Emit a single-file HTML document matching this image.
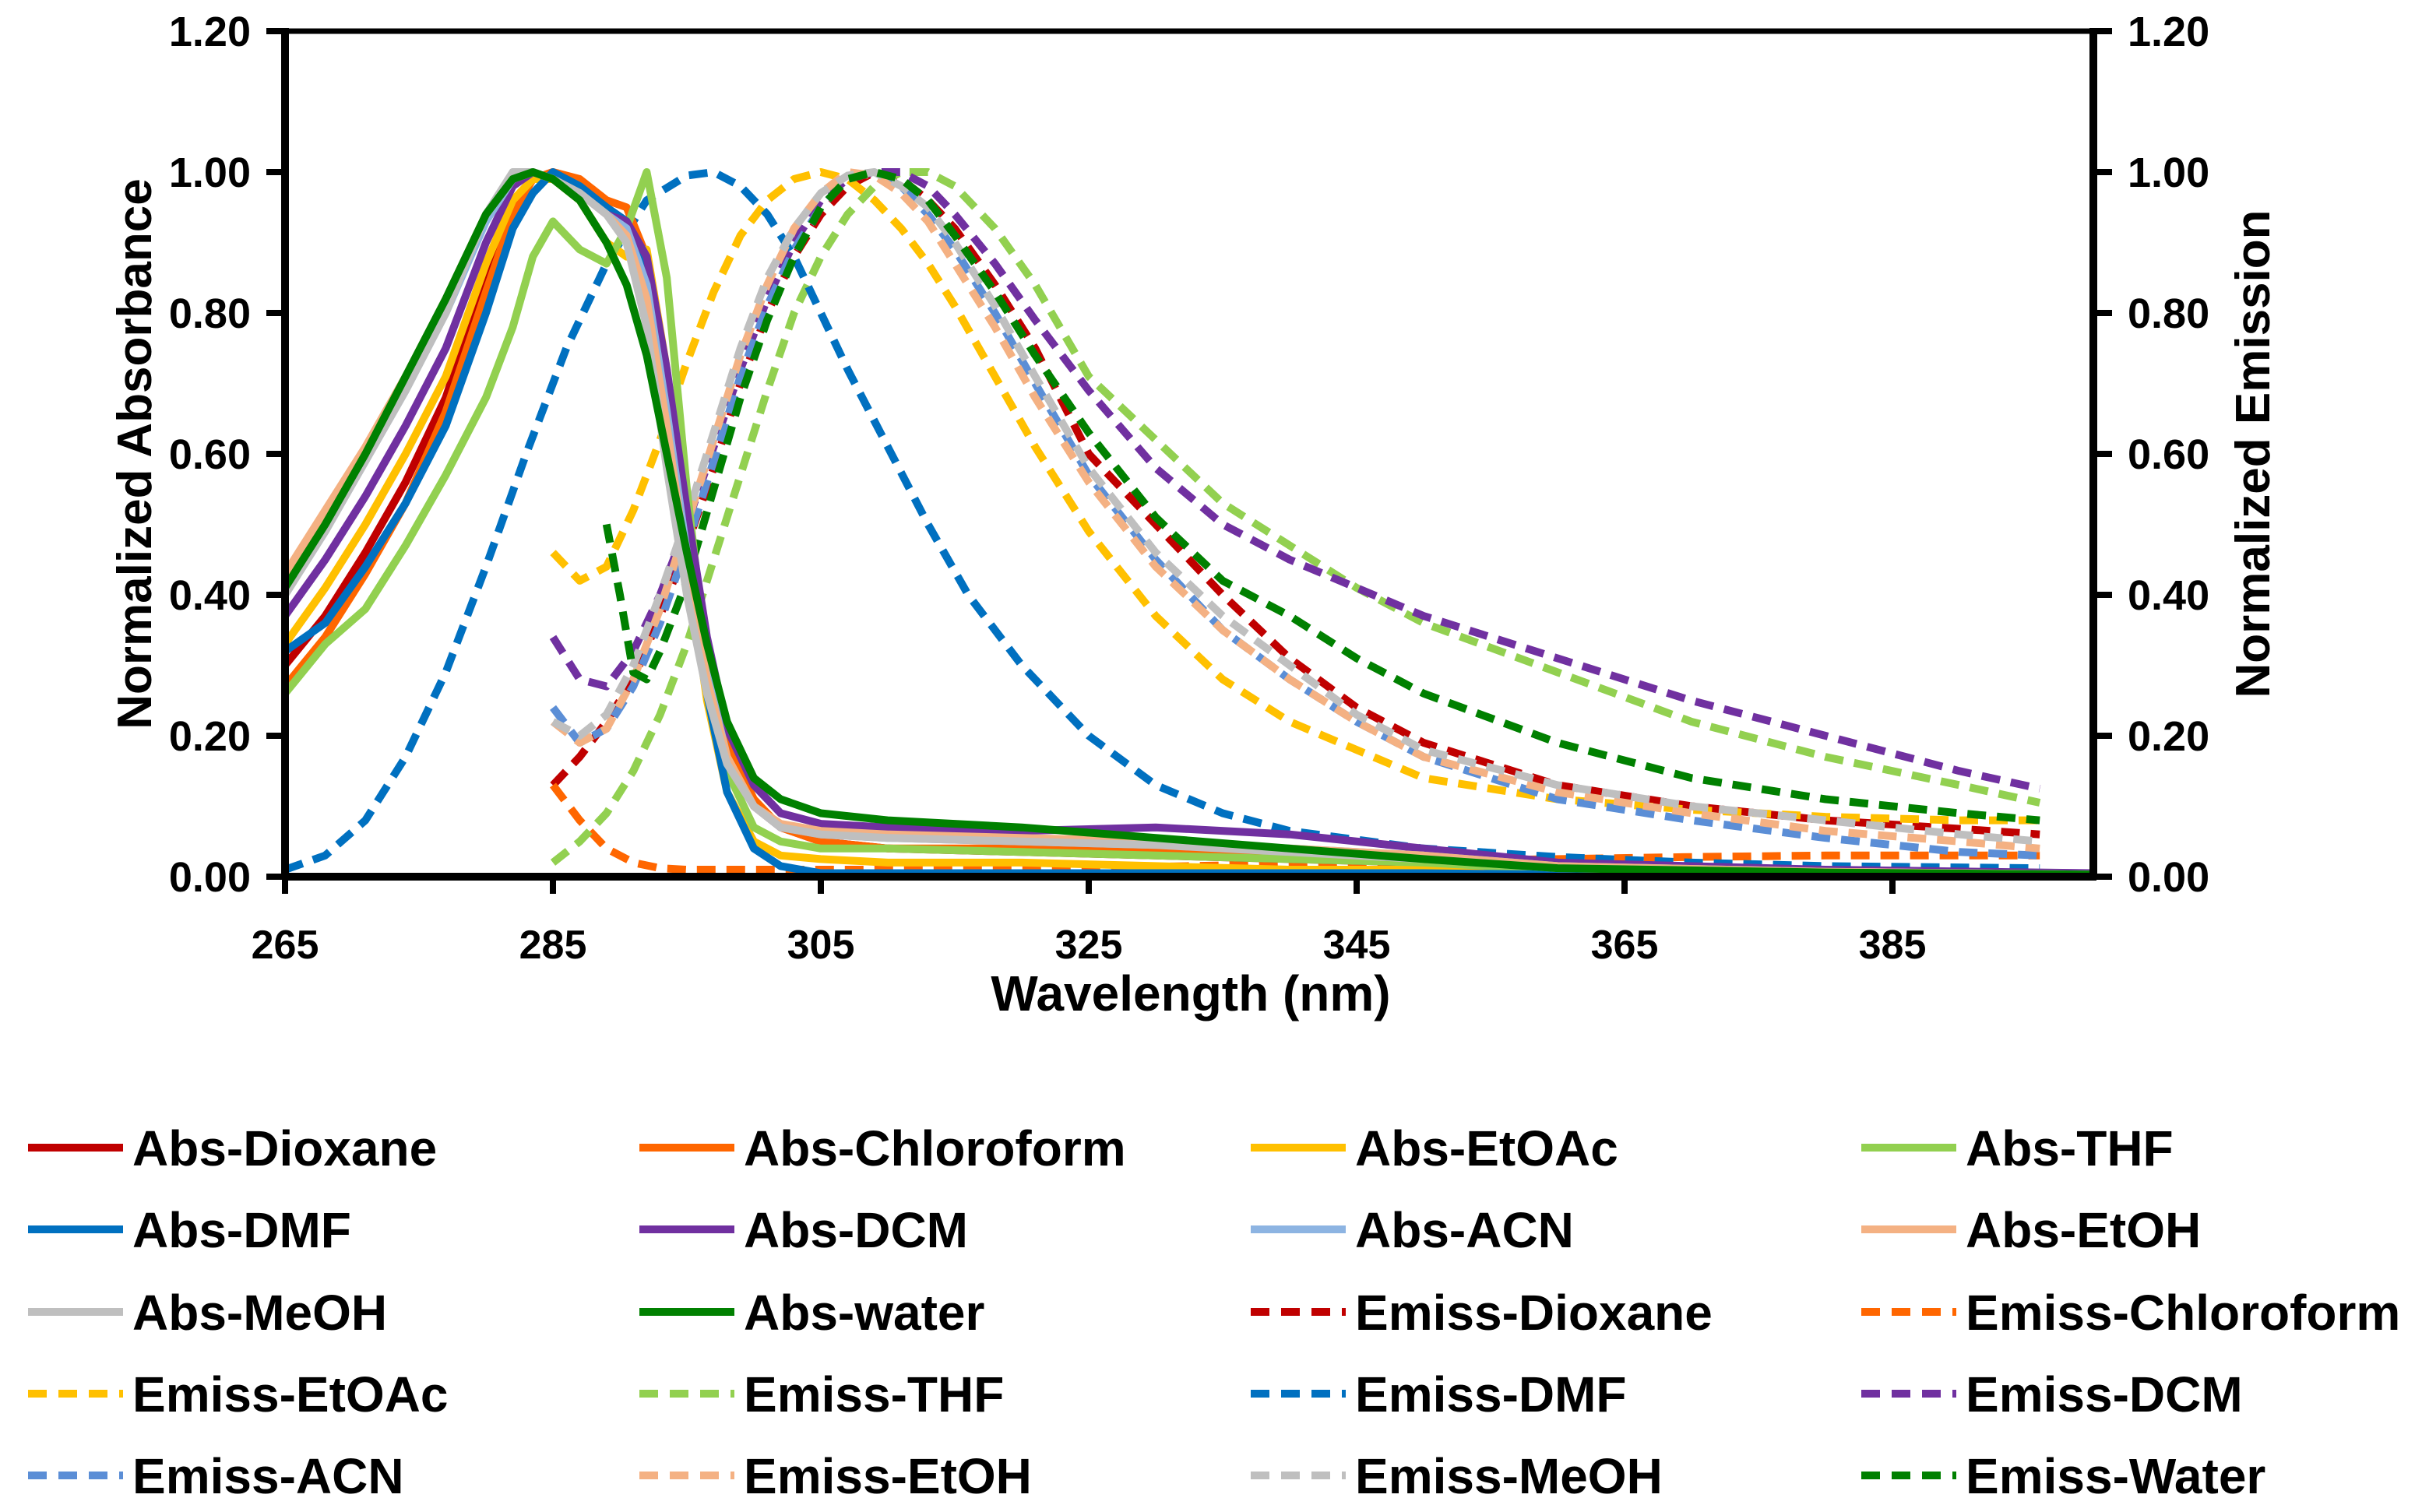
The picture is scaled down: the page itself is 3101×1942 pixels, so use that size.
<!DOCTYPE html>
<html><head><meta charset="utf-8">
<style>
html,body{margin:0;padding:0;background:#fff;}
svg{display:block;font-family:"Liberation Sans",Arial,sans-serif;font-weight:bold;}
</style></head>
<body>
<svg id="chart" width="3101" height="1942" viewBox="0 0 3101 1942" xmlns="http://www.w3.org/2000/svg">
<g id="plot"></g>
<g id="axes"></g>
<g id="legend"></g>
</svg>
<script>
// ---- data ----
const absWl = [265,268,271,274,277,280,282,283.5,285,287,289,290.5,292,293.5,295,296.5,298,300,302,305,310,320,330,340,350,360,380,400];
const absDioxane = [.30,.37,.46,.56,.68,.85,.95,.99,1.0,.98,.95,.93,.85,.68,.48,.30,.18,.10,.07,.05,.04,.035,.03,.025,.02,.01,.005,.002];
const absChloroform = [.27,.34,.43,.53,.66,.83,.94,.99,1.0,.99,.96,.95,.88,.70,.50,.32,.19,.11,.07,.05,.04,.04,.035,.03,.02,.01,.005,.002];
const absEtOAc = [.33,.41,.50,.60,.71,.87,.96,.99,.99,.96,.90,.88,.89,.72,.45,.25,.12,.05,.03,.025,.02,.02,.015,.01,.01,.005,.003,.002];
const absTHF = [.26,.33,.38,.47,.57,.68,.78,.88,.93,.89,.87,.92,1.0,.85,.55,.30,.15,.07,.05,.04,.04,.035,.03,.025,.02,.01,.005,.002];
const absDMF = [.32,.36,.44,.53,.64,.80,.92,.97,1.0,.98,.95,.93,.86,.66,.45,.26,.12,.04,.015,.005,.005,.005,.005,.005,.005,.003,.002,.002];
const absDCM = [.37,.45,.54,.64,.75,.90,.98,1.0,.99,.97,.94,.93,.88,.72,.52,.34,.21,.13,.09,.075,.07,.065,.07,.06,.04,.02,.01,.005];
const absACN = [.40,.49,.59,.69,.80,.93,.99,1.0,.99,.97,.94,.92,.84,.66,.46,.29,.17,.10,.07,.06,.055,.05,.045,.04,.03,.015,.007,.003];
const absEtOH = [.43,.52,.61,.71,.82,.94,.99,1.0,.99,.97,.94,.91,.82,.64,.44,.28,.17,.10,.075,.065,.06,.055,.05,.04,.03,.015,.007,.003];
const absMeOH = [.40,.49,.59,.69,.80,.94,1.0,1.0,.99,.97,.94,.90,.78,.58,.40,.26,.16,.10,.07,.06,.055,.05,.045,.035,.025,.012,.006,.003];
const absWater = [.41,.50,.60,.71,.82,.94,.99,1.0,.99,.96,.90,.84,.74,.60,.46,.33,.22,.14,.11,.09,.08,.07,.055,.04,.025,.012,.006,.003];

const emWl = [285,287,289,291,293,295,297,299,301,303,305,307,309,311,313,315,318,321,325,330,335,340,345,350,360,370,380,390,396];
const emDioxane = [.13,.17,.22,.28,.37,.47,.58,.70,.80,.88,.94,.98,1.0,.99,.96,.92,.84,.75,.60,.50,.40,.31,.24,.19,.13,.10,.08,.068,.06];
const emChloroform = [.13,.08,.04,.02,.012,.01,.01,.01,.01,.01,.01,.01,.01,.01,.01,.01,.01,.01,.012,.014,.016,.018,.02,.022,.025,.028,.03,.03,.03];
const emEtOAc = [.46,.42,.44,.52,.62,.73,.83,.91,.96,.99,1.0,.99,.96,.92,.87,.81,.71,.61,.49,.37,.28,.22,.18,.14,.11,.095,.085,.08,.08];
const emTHF = [.02,.05,.09,.15,.23,.33,.45,.57,.69,.80,.88,.94,.98,1.0,1.0,.98,.92,.84,.71,.62,.53,.47,.41,.36,.29,.22,.17,.13,.105];
const emDCM = [.34,.28,.27,.32,.40,.50,.61,.72,.82,.90,.96,.99,1.0,1.0,.98,.94,.87,.79,.69,.58,.50,.45,.41,.37,.31,.25,.20,.15,.125];
const emACN = [.24,.19,.21,.27,.36,.47,.59,.71,.81,.89,.95,.99,1.0,.98,.94,.89,.80,.70,.57,.45,.35,.28,.22,.17,.11,.08,.055,.035,.03];
const emEtOH = [.22,.19,.21,.28,.38,.50,.62,.74,.84,.92,.97,1.0,.995,.97,.93,.87,.78,.68,.56,.44,.35,.28,.22,.17,.12,.09,.065,.05,.04];
const emMeOH = [.22,.20,.23,.30,.40,.51,.63,.75,.85,.92,.97,.995,1.0,.98,.95,.90,.81,.71,.58,.46,.37,.30,.23,.18,.13,.10,.08,.06,.05];
const emWaterWl = [289,290,291,292,293,295,297,299,301,303,305,307,309,311,313,315,318,321,325,330,335,340,345,350,360,370,380,390,396];
const emWater = [.50,.40,.29,.28,.32,.42,.55,.68,.79,.88,.95,.99,1.0,.99,.96,.91,.83,.74,.63,.51,.42,.37,.31,.26,.19,.14,.11,.09,.08];
const emDMFWl = [265,268,271,274,277,280,283,286,289,292,295,297,299,301,303,305,307,310,313,316,320,325,330,335,340,350,360,370,380,396];
const emDMF = [.01,.03,.08,.17,.29,.44,.60,.75,.87,.96,.995,1.0,.98,.94,.88,.80,.72,.61,.50,.40,.30,.20,.13,.09,.065,.04,.028,.02,.015,.012];

const xTicks = [265,285,305,325,345,365,385];
const yTicks = [0,0.2,0.4,0.6,0.8,1.0,1.2];

// ---- layout ----
const X0=366, X1=2688, Y0=1126, Y1=40, WMIN=265, WMAX=400, VMAX=1.2;
const xs = w => X0 + (w-WMIN)/(WMAX-WMIN)*(X1-X0);
const ys = v => Y0 - v/VMAX*(Y0-Y1);
const NS="http://www.w3.org/2000/svg";
function mk(tag, parent){const e=document.createElementNS(NS,tag);parent.appendChild(e);return e;}

const series = [
 {label:"Abs-Dioxane", wl:absWl, v:absDioxane, c:"#C00000", dash:false, key:"abs-dioxane"},
 {label:"Abs-Chloroform", wl:absWl, v:absChloroform, c:"#FF6600", dash:false, key:"abs-chloroform"},
 {label:"Abs-EtOAc", wl:absWl, v:absEtOAc, c:"#FFC000", dash:false, key:"abs-etoac"},
 {label:"Abs-THF", wl:absWl, v:absTHF, c:"#92D050", dash:false, key:"abs-thf"},
 {label:"Abs-DMF", wl:absWl, v:absDMF, c:"#0070C0", dash:false, key:"abs-dmf"},
 {label:"Abs-DCM", wl:absWl, v:absDCM, c:"#7030A0", dash:false, key:"abs-dcm"},
 {label:"Abs-ACN", wl:absWl, v:absACN, c:"#8DB4E2", dash:false, key:"abs-acn"},
 {label:"Abs-EtOH", wl:absWl, v:absEtOH, c:"#F4B183", dash:false, key:"abs-etoh"},
 {label:"Abs-MeOH", wl:absWl, v:absMeOH, c:"#BFBFBF", dash:false, key:"abs-meoh"},
 {label:"Abs-water", wl:absWl, v:absWater, c:"#008000", dash:false, key:"abs-water"},
 {label:"Emiss-Dioxane", wl:emWl, v:emDioxane, c:"#C00000", dash:true, key:"emiss-dioxane"},
 {label:"Emiss-Chloroform", wl:emWl, v:emChloroform, c:"#FF6600", dash:true, key:"emiss-chloroform"},
 {label:"Emiss-EtOAc", wl:emWl, v:emEtOAc, c:"#FFC000", dash:true, key:"emiss-etoac"},
 {label:"Emiss-THF", wl:emWl, v:emTHF, c:"#92D050", dash:true, key:"emiss-thf"},
 {label:"Emiss-DMF", wl:emDMFWl, v:emDMF, c:"#0070C0", dash:true, key:"emiss-dmf"},
 {label:"Emiss-DCM", wl:emWl, v:emDCM, c:"#7030A0", dash:true, key:"emiss-dcm"},
 {label:"Emiss-ACN", wl:emWl, v:emACN, c:"#5B8ED6", dash:true, key:"emiss-acn"},
 {label:"Emiss-EtOH", wl:emWl, v:emEtOH, c:"#F4B183", dash:true, key:"emiss-etoh"},
 {label:"Emiss-MeOH", wl:emWl, v:emMeOH, c:"#BFBFBF", dash:true, key:"emiss-meoh"},
 {label:"Emiss-Water", wl:emWaterWl, v:emWater, c:"#008000", dash:true, key:"emiss-water"}
];

const plot=document.getElementById('plot');
const order=[...series.slice(10),...series.slice(0,10)];
order.forEach(s=>{
  const p=mk('polyline',plot);
  p.setAttribute('points', s.wl.map((w,i)=>xs(w).toFixed(1)+','+ys(s.v[i]).toFixed(1)).join(' '));
  p.setAttribute('fill','none');
  p.setAttribute('stroke',s.c);
  p.setAttribute('stroke-width','10');
  p.setAttribute('stroke-linejoin','round');
  if(s.dash){p.setAttribute('stroke-dasharray','24 14');}
  
  
});

// axes
const ax=document.getElementById('axes');
function line(x1,y1,x2,y2,w,name){const l=mk('line',ax);l.setAttribute('x1',x1);l.setAttribute('y1',y1);l.setAttribute('x2',x2);l.setAttribute('y2',y2);l.setAttribute('stroke','#000');l.setAttribute('stroke-width',w);
 
 return l;}
line(X0-4,Y1,X1+4,Y1,7,'top-border');
line(X0,Y1-4,X0,Y0+4,10,'left-y-axis');
line(X1,Y1-4,X1,Y0+4,10,'right-y-axis');
line(X0-4,Y0,X1+4,Y0,10,'x-axis');
function text(x,y,str,anchor,size,name){const t=mk('text',ax);t.setAttribute('x',x);t.setAttribute('y',y);t.setAttribute('text-anchor',anchor);t.setAttribute('font-size',size);t.textContent=str;
 
 return t;}
xTicks.forEach(w=>{
  line(xs(w),Y0,xs(w),Y0+22,8,'x-tick');
  text(xs(w),Y0+105,String(w),'middle',52,'x-tick-label');
});
yTicks.forEach(v=>{
  line(X0-24,ys(v),X0,ys(v),8,'left-y-tick');
  line(X1,ys(v),X1+24,ys(v),8,'right-y-tick');
  text(322,ys(v)+19,v.toFixed(2),'end',54,'left-y-tick-label');
  text(2732,ys(v)+19,v.toFixed(2),'start',54,'right-y-tick-label');
});
text(1529,1298,'Wavelength (nm)','middle',64,'x-axis-title');
let t1=text(0,0,'Normalized Absorbance','middle',62,'left-y-axis-title');
t1.setAttribute('transform','translate(194,583) rotate(-90)');
let t2=text(0,0,'Normalized Emission','middle',62,'right-y-axis-title');
t2.setAttribute('transform','translate(2914,583) rotate(-90)');

// legend
const lg=document.getElementById('legend');
const colX=[36,821,1606,2390], rowY=[1474,1579,1685,1790,1895];
series.forEach((s,i)=>{
  const cx=colX[i%4], cy=rowY[Math.floor(i/4)];
  const g=mk('g',lg);
  
  
  const l=mk('line',g);
  l.setAttribute('x1',cx);l.setAttribute('y1',cy);l.setAttribute('x2',cx+122);l.setAttribute('y2',cy);
  l.setAttribute('stroke',s.c);l.setAttribute('stroke-width','10');
  if(s.dash){l.setAttribute('stroke-dasharray','24 15');}
  
  
  const t=mk('text',g);
  t.setAttribute('x',cx+134);t.setAttribute('y',cy+23);t.setAttribute('font-size','64');
  t.textContent=s.label;
  
  
});
</script>
</body></html>
